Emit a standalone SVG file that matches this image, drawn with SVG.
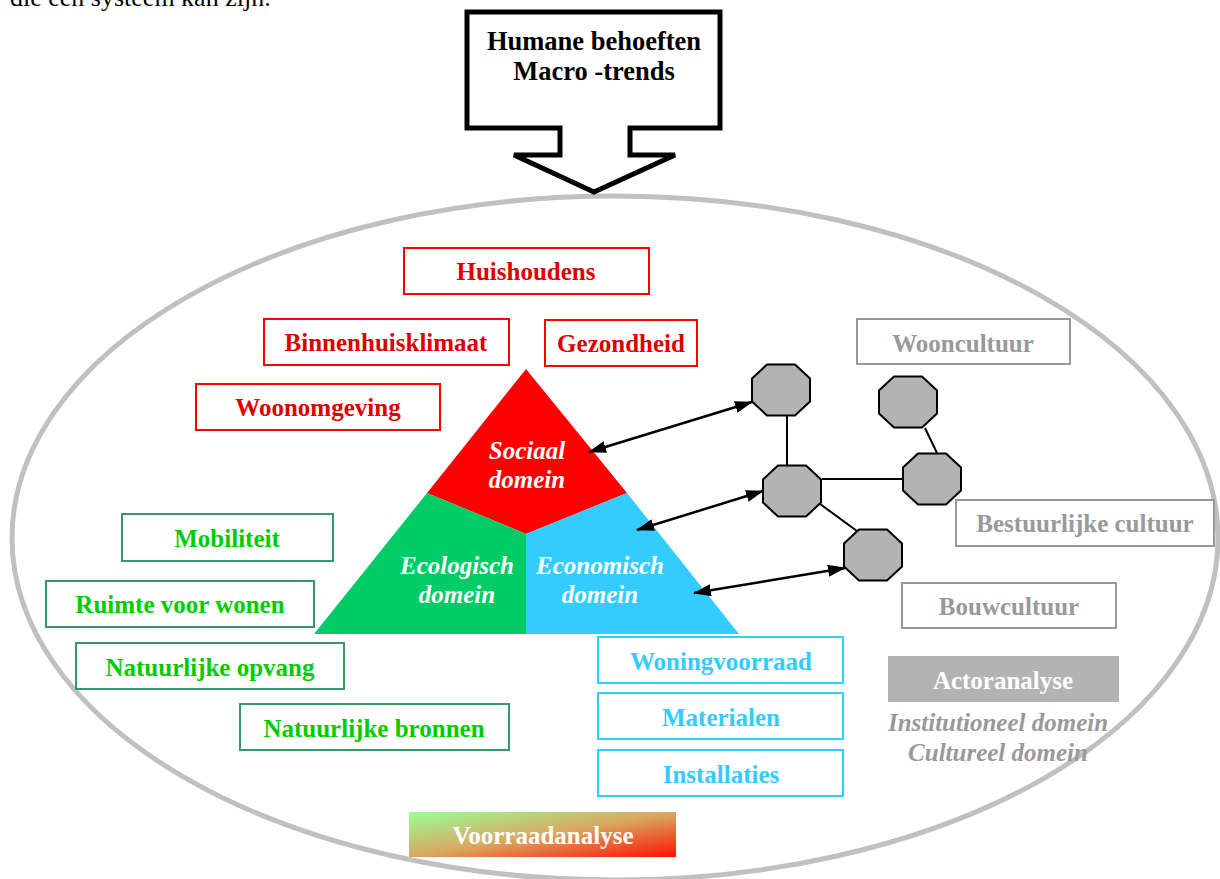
<svg xmlns="http://www.w3.org/2000/svg" width="1220" height="879" viewBox="0 0 1220 879">
<style>
text{font-family:"Liberation Serif","Times New Roman",serif;font-size:25px;font-weight:bold;text-anchor:middle}
.body{font-weight:normal;text-anchor:start;font-size:26px;fill:#000}
.title{font-size:26.5px;fill:#000}
.red rect{fill:#fff;stroke:#ff0000;stroke-width:2}
.red text{fill:#dd0000}
.grn rect{fill:#fff;stroke:#339966;stroke-width:2}
.grn text{fill:#00cc00}
.blu rect{fill:#fff;stroke:#33ccff;stroke-width:2}
.blu text{fill:#33ccff}
.gry rect{fill:#fff;stroke:#999999;stroke-width:2}
.gry text{fill:#999999}
.dom{fill:#fff;font-style:italic}
.oct{fill:#b3b3b3;stroke:#000;stroke-width:2}
.link{stroke:#000;stroke-width:2;fill:none}
.arr{stroke:#000;stroke-width:2.5;fill:none;marker-start:url(#ah);marker-end:url(#ah)}
</style>
<defs>
<marker id="ah" viewBox="0 0 18 12" markerWidth="18" markerHeight="12" refX="17" refY="6" orient="auto-start-reverse" markerUnits="userSpaceOnUse">
<path d="M0,0 L18,6 L0,12 z" fill="#000"/>
</marker>
<polygon id="octshape" points="-14,-25.5 14,-25.5 29,-11.5 29,11.5 14,25.5 -14,25.5 -29,11.5 -29,-11.5"/>
<linearGradient id="vgrad" x1="0" y1="0" x2="1" y2="1">
<stop offset="0" stop-color="#99ff99"/>
<stop offset="0.5" stop-color="#d9a860"/>
<stop offset="1" stop-color="#ff1100"/>
</linearGradient>
</defs>
<rect width="1220" height="879" fill="#fff"/>
<text class="body" x="10" y="6">die een systeem kan zijn.</text>
<ellipse cx="615" cy="538" rx="603" ry="342" fill="none" stroke="#c0c0c0" stroke-width="5"/>
<g id="callout">
<path d="M467,12 H720 V128 H630 V155 H675 L594,192 L514,155 H560 V128 H467 Z" fill="#fff" stroke="#000" stroke-width="5"/>
<text class="title" x="594" y="50">Humane behoeften</text>
<text class="title" x="594" y="80">Macro -trends</text>
</g>
<g id="triangle">
<polygon points="526,369 627,493 526,534 427,493" fill="#ff0000"/>
<polygon points="427,493 526,534 526,634 314,634" fill="#00cc66"/>
<polygon points="526,534 627,493 739,634 526,634" fill="#33ccff"/>
<text class="dom" x="527" y="459">Sociaal</text>
<text class="dom" x="527" y="488">domein</text>
<text class="dom" x="457" y="574">Ecologisch</text>
<text class="dom" x="457" y="603">domein</text>
<text class="dom" x="600" y="574">Economisch</text>
<text class="dom" x="600" y="603">domein</text>
</g>
<g id="huishoudens" class="red"><rect x="404" y="248" width="245" height="46"/><text x="526" y="280">Huishoudens</text></g>
<g id="binnenhuisklimaat" class="red"><rect x="264" y="319" width="245" height="46"/><text x="386" y="351">Binnenhuisklimaat</text></g>
<g id="gezondheid" class="red"><rect x="545" y="320" width="152" height="46"/><text x="621" y="352">Gezondheid</text></g>
<g id="woonomgeving" class="red"><rect x="196" y="384" width="244" height="46"/><text x="318" y="416">Woonomgeving</text></g>
<g id="mobiliteit" class="grn"><rect x="122" y="514" width="211" height="47"/><text x="227" y="547">Mobiliteit</text></g>
<g id="ruimte" class="grn"><rect x="46" y="581" width="268" height="46"/><text x="180" y="613">Ruimte voor wonen</text></g>
<g id="opvang" class="grn"><rect x="76" y="643" width="268" height="46"/><text x="210" y="676">Natuurlijke opvang</text></g>
<g id="bronnen" class="grn"><rect x="240" y="704" width="269" height="46"/><text x="374" y="737">Natuurlijke bronnen</text></g>
<g id="woningvoorraad" class="blu"><rect x="598" y="637" width="245" height="46"/><text x="721" y="670">Woningvoorraad</text></g>
<g id="materialen" class="blu"><rect x="598" y="693" width="245" height="46"/><text x="721" y="726">Materialen</text></g>
<g id="installaties" class="blu"><rect x="598" y="750" width="245" height="46"/><text x="721" y="783">Installaties</text></g>
<g id="wooncultuur" class="gry"><rect x="857" y="319" width="213" height="45"/><text x="963" y="352">Wooncultuur</text></g>
<g id="bestuurlijke" class="gry"><rect x="956" y="500" width="258" height="46"/><text x="1085" y="532">Bestuurlijke cultuur</text></g>
<g id="bouwcultuur" class="gry"><rect x="902" y="583" width="214" height="45"/><text x="1009" y="615">Bouwcultuur</text></g>
<g id="actoranalyse">
<rect x="888" y="656" width="231" height="46" fill="#b3b3b3"/>
<text x="1003" y="689" fill="#fff">Actoranalyse</text>
<text x="998" y="731" fill="#999999" font-style="italic">Institutioneel domein</text>
<text x="998" y="761" fill="#999999" font-style="italic">Cultureel domein</text>
</g>
<g id="voorraadanalyse">
<rect x="409" y="812" width="267" height="45" fill="url(#vgrad)"/>
<text x="543" y="844" fill="#fff">Voorraadanalyse</text>
</g>
<g id="connectors">
<line class="link" x1="787" y1="415" x2="787" y2="466"/>
<line class="link" x1="822" y1="479" x2="903" y2="479"/>
<line class="link" x1="925" y1="428" x2="937" y2="453"/>
<line class="link" x1="820" y1="504" x2="857" y2="531"/>
<line class="arr" x1="589" y1="452" x2="752" y2="402"/>
<line class="arr" x1="637" y1="530" x2="763" y2="491"/>
<line class="arr" x1="694" y1="593" x2="845" y2="568"/>
</g>
<g id="octA"><use href="#octshape" class="oct" x="781" y="390"/></g>
<g id="octB"><use href="#octshape" class="oct" x="908" y="402"/></g>
<g id="octC"><use href="#octshape" class="oct" x="792" y="491"/></g>
<g id="octD"><use href="#octshape" class="oct" x="932" y="479"/></g>
<g id="octE"><use href="#octshape" class="oct" x="873" y="555"/></g>
</svg>
